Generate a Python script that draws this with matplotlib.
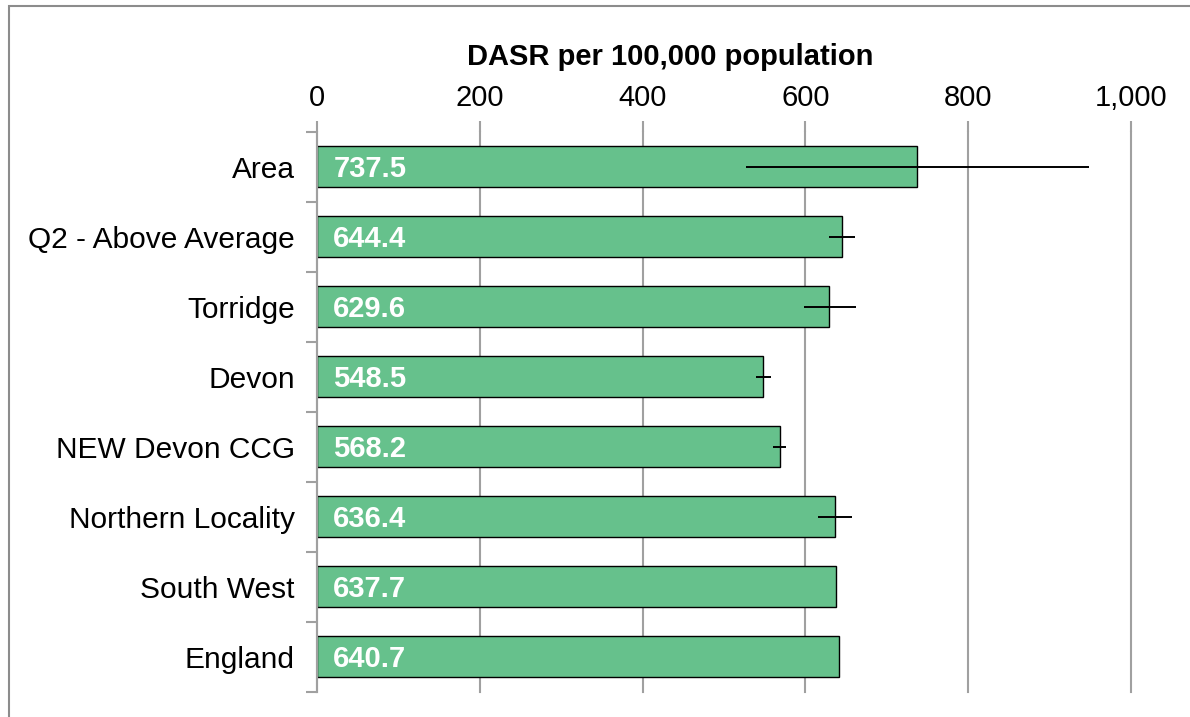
import matplotlib.pyplot as plt
import matplotlib.patches as mpatches
import numpy as np

plt.rcParams['font.family'] = ['Liberation Sans', 'DejaVu Sans']

# data
areas = ["Area", "Q2 - Above Average", "Torridge", "Devon", "NEW Devon CCG",
         "Northern Locality", "South West", "England"]
dasr = [737.5, 644.4, 629.6, 548.5, 568.2, 636.4, 637.7, 640.7]
ci_low = [527.0, 628.7, 597.8, 539.7, 560.2, 615.9, np.nan, np.nan]
ci_high = [948.0, 660.7, 662.2, 557.2, 576.6, 657.6, np.nan, np.nan]

W, H = 1190, 717
fig = plt.figure(figsize=(W / 100, H / 100), dpi=100)
ax = fig.add_axes([317 / W, 1 - 691.7 / H, (1131 - 317) / W, 560 / H])

grey = '#a0a0a0'
y = np.arange(len(areas))
ax.barh(y, dasr, height=0.58, color='#66c18c', edgecolor='black', linewidth=1, zorder=2)

lo = np.array(dasr) - np.array(ci_low)
hi = np.array(ci_high) - np.array(dasr)
ax.errorbar(dasr, y, xerr=[lo, hi], fmt='none', ecolor='black', elinewidth=1.4,
            capsize=0, zorder=3)

for yi, v in zip(y, dasr):
    ax.text(20, yi + 0.03, f"{v:.1f}", color='white', fontsize=21, fontweight='bold',
            va='center', ha='left', zorder=4)

ax.set_xlim(0, 1000)
ax.set_ylim(len(areas) - 0.5, -0.5)
ax.set_xticks(range(0, 1001, 200))
ax.set_xticklabels(['0', '200', '400', '600', '800', '1,000'])
ax.xaxis.tick_top()
ax.tick_params(axis='x', length=8, width=1.5, color=grey, labelsize=21, pad=6)

ax.set_yticks(y)
ax.set_yticklabels(areas)
ax.set_yticks(np.arange(-0.5, len(areas)), minor=True)
ax.tick_params(axis='y', which='major', length=0, labelsize=21.5, pad=16)
ax.tick_params(axis='y', which='minor', length=8, width=1.5, color=grey)

ax.grid(axis='x', color=grey, linewidth=1.5, zorder=0)
for gl in ax.get_xgridlines():
    gl.set_clip_on(False)
for tl in ax.xaxis.get_ticklines():
    tl.set_clip_on(False)
ax.set_axisbelow(True)
for s in ['top', 'right', 'bottom']:
    ax.spines[s].set_visible(False)
ax.spines['left'].set_color(grey)
ax.spines['left'].set_linewidth(1.5)

fig.text(670 / W, 1 - 57 / H, "DASR per 100,000 population", fontsize=21,
         fontweight='bold', ha='center', va='center')

# outer frame
fig.patches.append(mpatches.Rectangle((8.5 / W, -0.1), 1.2, 1.1 - 6 / H,
                                      transform=fig.transFigure, fill=False,
                                      edgecolor='#8c8c8c', linewidth=1.5))

fig.savefig('out.png', dpi=100)
